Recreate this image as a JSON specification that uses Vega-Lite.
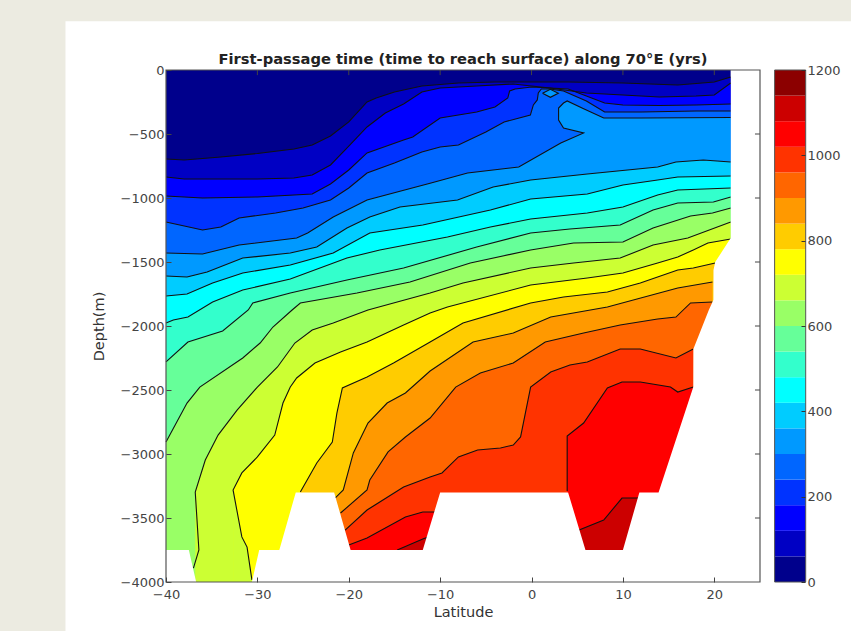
{"$schema":"https://vega.github.io/schema/vega-lite/v6.json","autosize":{"type":"none"},"padding":{"left":166,"top":70,"right":91,"bottom":49},"width":594,"height":512,"background":"#ecebe1","view":{"stroke":null},"title":{"text":"First-passage time (time to reach surface) along 70°E (yrs)","font":"DejaVu Sans","fontSize":14.7,"fontWeight":"bold","color":"#222","offset":3,"anchor":"middle","dy":48},
"datasets":{"c":[
{"p":"0","l":0,"x":-40,"d":0,"n":"f"},{"p":"0","l":0,"x":21.8,"d":0,"n":"f"},
{"p":"60","l":60,"x":-40,"d":-695},{"p":"60","l":60,"x":-38,"d":-703},{"p":"60","l":60,"x":-34,"d":-680},{"p":"60","l":60,"x":-30,"d":-652},{"p":"60","l":60,"x":-26,"d":-617},{"p":"60","l":60,"x":-24,"d":-586},{"p":"60","l":60,"x":-22,"d":-516},{"p":"60","l":60,"x":-20,"d":-406},{"p":"60","l":60,"x":-18,"d":-250},{"p":"60","l":60,"x":-17,"d":-219},{"p":"60","l":60,"x":-15,"d":-172},{"p":"60","l":60,"x":-12,"d":-125},{"p":"60","l":60,"x":-8,"d":-102},{"p":"60","l":60,"x":-4,"d":-94},{"p":"60","l":60,"x":4,"d":-94},{"p":"60","l":60,"x":10,"d":-102},{"p":"60","l":60,"x":16,"d":-117},{"p":"60","l":60,"x":20,"d":-94},{"p":"60","l":60,"x":21.8,"d":-55},
{"p":"120","l":120,"x":-40,"d":-836},{"p":"120","l":120,"x":-38,"d":-852},{"p":"120","l":120,"x":-30,"d":-852},{"p":"120","l":120,"x":-26,"d":-844},{"p":"120","l":120,"x":-24,"d":-820},{"p":"120","l":120,"x":-22,"d":-742},{"p":"120","l":120,"x":-20,"d":-594},{"p":"120","l":120,"x":-18,"d":-445},{"p":"120","l":120,"x":-16,"d":-336},{"p":"120","l":120,"x":-14,"d":-266},{"p":"120","l":120,"x":-12,"d":-172},{"p":"120","l":120,"x":-10,"d":-141},{"p":"120","l":120,"x":-6,"d":-125},{"p":"120","l":120,"x":-2,"d":-109},{"p":"120","l":120,"x":2,"d":-141},{"p":"120","l":120,"x":6,"d":-180},{"p":"120","l":120,"x":10,"d":-195},{"p":"120","l":120,"x":14,"d":-211},{"p":"120","l":120,"x":18,"d":-203},{"p":"120","l":120,"x":20,"d":-195},{"p":"120","l":120,"x":21.8,"d":-102},
{"p":"180","l":180,"x":-40,"d":-984},{"p":"180","l":180,"x":-36,"d":-1000},{"p":"180","l":180,"x":-30,"d":-992},{"p":"180","l":180,"x":-24,"d":-969},{"p":"180","l":180,"x":-22,"d":-891},{"p":"180","l":180,"x":-20,"d":-781},{"p":"180","l":180,"x":-18,"d":-648},{"p":"180","l":180,"x":-14,"d":-547},{"p":"180","l":180,"x":-13,"d":-523},{"p":"180","l":180,"x":-10,"d":-375},{"p":"180","l":180,"x":-8,"d":-352},{"p":"180","l":180,"x":-6,"d":-328},{"p":"180","l":180,"x":-4,"d":-289},{"p":"180","l":180,"x":-2.6,"d":-219},{"p":"180","l":180,"x":-2.4,"d":-164},{"p":"180","l":180,"x":-1.8,"d":-148},{"p":"180","l":180,"x":0,"d":-133},{"p":"180","l":180,"x":2,"d":-141},{"p":"180","l":180,"x":4,"d":-148},{"p":"180","l":180,"x":6,"d":-203},{"p":"180","l":180,"x":8,"d":-258},{"p":"180","l":180,"x":10,"d":-273},{"p":"180","l":180,"x":14,"d":-277},{"p":"180","l":180,"x":18,"d":-273},{"p":"180","l":180,"x":21.8,"d":-266},
{"p":"240","l":240,"x":-40,"d":-1188},{"p":"240","l":240,"x":-36,"d":-1250},{"p":"240","l":240,"x":-34,"d":-1227},{"p":"240","l":240,"x":-32,"d":-1156},{"p":"240","l":240,"x":-28,"d":-1117},{"p":"240","l":240,"x":-25,"d":-1078},{"p":"240","l":240,"x":-22,"d":-1016},{"p":"240","l":240,"x":-20,"d":-922},{"p":"240","l":240,"x":-18,"d":-805},{"p":"240","l":240,"x":-15,"d":-727},{"p":"240","l":240,"x":-12,"d":-641},{"p":"240","l":240,"x":-10,"d":-602},{"p":"240","l":240,"x":-8,"d":-586},{"p":"240","l":240,"x":-5,"d":-484},{"p":"240","l":240,"x":-3,"d":-406},{"p":"240","l":240,"x":-0.13,"d":-352},{"p":"240","l":240,"x":0.2,"d":-273},{"p":"240","l":240,"x":0.63,"d":-234},{"p":"240","l":240,"x":0.74,"d":-180},{"p":"240","l":240,"x":1.07,"d":-148},{"p":"240","l":240,"x":2,"d":-148},{"p":"240","l":240,"x":3.5,"d":-164},{"p":"240","l":240,"x":6,"d":-242},{"p":"240","l":240,"x":8,"d":-328},{"p":"240","l":240,"x":12,"d":-328},{"p":"240","l":240,"x":18,"d":-320},{"p":"240","l":240,"x":21.8,"d":-320},
{"p":"300","l":300,"x":-40,"d":-1430},{"p":"300","l":300,"x":-36,"d":-1438},{"p":"300","l":300,"x":-32,"d":-1367},{"p":"300","l":300,"x":-25.7,"d":-1313},{"p":"300","l":300,"x":-24.5,"d":-1273},{"p":"300","l":300,"x":-21.7,"d":-1148},{"p":"300","l":300,"x":-18,"d":-1016},{"p":"300","l":300,"x":-11,"d":-883},{"p":"300","l":300,"x":-7,"d":-805},{"p":"300","l":300,"x":-1.4,"d":-758},{"p":"300","l":300,"x":3.2,"d":-570},{"p":"300","l":300,"x":5.7,"d":-492},{"p":"300","l":300,"x":3.5,"d":-453,"n":"l"},{"p":"300","l":300,"x":2.96,"d":-391,"n":"l"},{"p":"300","l":300,"x":2.96,"d":-297,"n":"l"},{"p":"300","l":300,"x":3.5,"d":-258,"n":"l"},{"p":"300","l":300,"x":3.9,"d":-242,"n":"l"},{"p":"300","l":300,"x":5.7,"d":-302,"n":"l"},{"p":"300","l":300,"x":5.71,"d":-302,"n":"f"},{"p":"300","l":300,"x":7.9,"d":-375},{"p":"300","l":300,"x":12,"d":-375},{"p":"300","l":300,"x":21.8,"d":-371},
{"p":"d","l":300,"x":1.2,"d":-182,"n":"l"},{"p":"d","l":300,"x":2.06,"d":-151,"n":"l"},{"p":"d","l":300,"x":2.93,"d":-182,"n":"l"},{"p":"d","l":300,"x":2.06,"d":-213,"n":"l"},{"p":"d","l":300,"x":1.2,"d":-182,"n":"l"},
{"p":"360","l":360,"x":-40,"d":-1609},{"p":"360","l":360,"x":-37.7,"d":-1617},{"p":"360","l":360,"x":-35.5,"d":-1578},{"p":"360","l":360,"x":-31.6,"d":-1469},{"p":"360","l":360,"x":-26.4,"d":-1430},{"p":"360","l":360,"x":-23.5,"d":-1383},{"p":"360","l":360,"x":-20.2,"d":-1234},{"p":"360","l":360,"x":-17.7,"d":-1148},{"p":"360","l":360,"x":-14.4,"d":-1070},{"p":"360","l":360,"x":-8.1,"d":-1016},{"p":"360","l":360,"x":-4.2,"d":-914},{"p":"360","l":360,"x":-0.1,"d":-859},{"p":"360","l":360,"x":6.1,"d":-813},{"p":"360","l":360,"x":13.8,"d":-758},{"p":"360","l":360,"x":15.8,"d":-719},{"p":"360","l":360,"x":18.8,"d":-703},{"p":"360","l":360,"x":21.8,"d":-719},
{"p":"420","l":420,"x":-40,"d":-1766},{"p":"420","l":420,"x":-37.7,"d":-1750},{"p":"420","l":420,"x":-34.9,"d":-1664},{"p":"420","l":420,"x":-31.6,"d":-1586},{"p":"420","l":420,"x":-26.4,"d":-1523},{"p":"420","l":420,"x":-21.7,"d":-1430},{"p":"420","l":420,"x":-17.7,"d":-1273},{"p":"420","l":420,"x":-11.9,"d":-1211},{"p":"420","l":420,"x":-4.5,"d":-1094},{"p":"420","l":420,"x":-0.1,"d":-1008},{"p":"420","l":420,"x":6.1,"d":-969},{"p":"420","l":420,"x":10,"d":-898},{"p":"420","l":420,"x":13.8,"d":-859},{"p":"420","l":420,"x":16,"d":-836},{"p":"420","l":420,"x":21.8,"d":-828},
{"p":"480","l":480,"x":-40,"d":-1977},{"p":"480","l":480,"x":-39.2,"d":-1953},{"p":"480","l":480,"x":-37.6,"d":-1930},{"p":"480","l":480,"x":-34.9,"d":-1813},{"p":"480","l":480,"x":-31.6,"d":-1719},{"p":"480","l":480,"x":-26.4,"d":-1633},{"p":"480","l":480,"x":-20.2,"d":-1469},{"p":"480","l":480,"x":-16.6,"d":-1406},{"p":"480","l":480,"x":-9.2,"d":-1305},{"p":"480","l":480,"x":-4.5,"d":-1227},{"p":"480","l":480,"x":-0.1,"d":-1164},{"p":"480","l":480,"x":6.1,"d":-1117},{"p":"480","l":480,"x":10,"d":-1070},{"p":"480","l":480,"x":13.8,"d":-977},{"p":"480","l":480,"x":16,"d":-938},{"p":"480","l":480,"x":21.8,"d":-922},
{"p":"540","l":540,"x":-40,"d":-2281},{"p":"540","l":540,"x":-37.6,"d":-2125},{"p":"540","l":540,"x":-33.8,"d":-2039},{"p":"540","l":540,"x":-31,"d":-1875},{"p":"540","l":540,"x":-30.5,"d":-1820},{"p":"540","l":540,"x":-26.4,"d":-1742},{"p":"540","l":540,"x":-20.2,"d":-1641},{"p":"540","l":540,"x":-14,"d":-1547},{"p":"540","l":540,"x":-6,"d":-1383},{"p":"540","l":540,"x":-0.1,"d":-1273},{"p":"540","l":540,"x":4.2,"d":-1242},{"p":"540","l":540,"x":9.7,"d":-1211},{"p":"540","l":540,"x":13.3,"d":-1094},{"p":"540","l":540,"x":16,"d":-1039},{"p":"540","l":540,"x":19.9,"d":-1031},{"p":"540","l":540,"x":21.8,"d":-992},
{"p":"600","l":600,"x":-40,"d":-2906},{"p":"600","l":600,"x":-37.7,"d":-2602},{"p":"600","l":600,"x":-36.3,"d":-2477},{"p":"600","l":600,"x":-31.6,"d":-2250},{"p":"600","l":600,"x":-29.7,"d":-2133},{"p":"600","l":600,"x":-28.3,"d":-2008},{"p":"600","l":600,"x":-26.2,"d":-1875},{"p":"600","l":600,"x":-25.3,"d":-1820},{"p":"600","l":600,"x":-19.1,"d":-1742},{"p":"600","l":600,"x":-13.3,"d":-1656},{"p":"600","l":600,"x":-6.7,"d":-1508},{"p":"600","l":600,"x":-0.1,"d":-1406},{"p":"600","l":600,"x":4.6,"d":-1352},{"p":"600","l":600,"x":10,"d":-1344},{"p":"600","l":600,"x":13.3,"d":-1234},{"p":"600","l":600,"x":17.4,"d":-1141},{"p":"600","l":600,"x":19.8,"d":-1117},{"p":"600","l":600,"x":21.8,"d":-1078},
{"p":"660","l":660,"x":-37,"d":-3891,"n":"l"},{"p":"660","l":660,"x":-36.4,"d":-3750,"n":"l"},{"p":"660","l":660,"x":-36.8,"d":-3297},{"p":"660","l":660,"x":-35.7,"d":-3047},{"p":"660","l":660,"x":-34.3,"d":-2852},{"p":"660","l":660,"x":-32.2,"d":-2656},{"p":"660","l":660,"x":-30,"d":-2477},{"p":"660","l":660,"x":-27.8,"d":-2320},{"p":"660","l":660,"x":-25.9,"d":-2133},{"p":"660","l":660,"x":-24,"d":-2031},{"p":"660","l":660,"x":-21.7,"d":-1977},{"p":"660","l":660,"x":-17.9,"d":-1875},{"p":"660","l":660,"x":-11.1,"d":-1742},{"p":"660","l":660,"x":-7.5,"d":-1664},{"p":"660","l":660,"x":-0.1,"d":-1547},{"p":"660","l":660,"x":4.6,"d":-1508},{"p":"660","l":660,"x":9.7,"d":-1469},{"p":"660","l":660,"x":13.3,"d":-1367},{"p":"660","l":660,"x":17.1,"d":-1313},{"p":"660","l":660,"x":21.8,"d":-1188},
{"p":"720","l":720,"x":-30.6,"d":-3984,"n":"l"},{"p":"720","l":720,"x":-31.13,"d":-3727,"n":"l"},{"p":"720","l":720,"x":-31.7,"d":-3648,"n":"l"},{"p":"720","l":720,"x":-32.66,"d":-3281},{"p":"720","l":720,"x":-31.7,"d":-3148},{"p":"720","l":720,"x":-30,"d":-3023},{"p":"720","l":720,"x":-28.1,"d":-2852},{"p":"720","l":720,"x":-27.2,"d":-2602},{"p":"720","l":720,"x":-26.4,"d":-2477},{"p":"720","l":720,"x":-25.7,"d":-2406},{"p":"720","l":720,"x":-23.7,"d":-2289},{"p":"720","l":720,"x":-20.9,"d":-2203},{"p":"720","l":720,"x":-18,"d":-2125},{"p":"720","l":720,"x":-14,"d":-1992},{"p":"720","l":720,"x":-11.1,"d":-1898},{"p":"720","l":720,"x":-9.2,"d":-1852},{"p":"720","l":720,"x":-0.1,"d":-1680},{"p":"720","l":720,"x":6.1,"d":-1625},{"p":"720","l":720,"x":10,"d":-1586},{"p":"720","l":720,"x":13.8,"d":-1508},{"p":"720","l":720,"x":16,"d":-1461},{"p":"720","l":720,"x":17.7,"d":-1406},{"p":"720","l":720,"x":19.3,"d":-1352},{"p":"720","l":720,"x":21.8,"d":-1320},
{"p":"780","l":780,"x":-25.3,"d":-3297},{"p":"780","l":780,"x":-23.5,"d":-3070},{"p":"780","l":780,"x":-21.8,"d":-2906},{"p":"780","l":780,"x":-21.3,"d":-2680},{"p":"780","l":780,"x":-20.7,"d":-2484},{"p":"780","l":780,"x":-18,"d":-2398},{"p":"780","l":780,"x":-15.1,"d":-2289},{"p":"780","l":780,"x":-11.1,"d":-2125},{"p":"780","l":780,"x":-7.5,"d":-1977},{"p":"780","l":780,"x":-0.1,"d":-1820},{"p":"780","l":780,"x":3.5,"d":-1773},{"p":"780","l":780,"x":8.3,"d":-1734},{"p":"780","l":780,"x":11.9,"d":-1664},{"p":"780","l":780,"x":16,"d":-1563},{"p":"780","l":780,"x":17.7,"d":-1547},{"p":"780","l":780,"x":20.1,"d":-1508},
{"p":"840","l":840,"x":-21.5,"d":-3344},{"p":"840","l":840,"x":-20.6,"d":-3281},{"p":"840","l":840,"x":-19.5,"d":-2992},{"p":"840","l":840,"x":-17.9,"d":-2758},{"p":"840","l":840,"x":-15.8,"d":-2602},{"p":"840","l":840,"x":-13.8,"d":-2523},{"p":"840","l":840,"x":-11.1,"d":-2352},{"p":"840","l":840,"x":-6.4,"d":-2125},{"p":"840","l":840,"x":-2,"d":-2055},{"p":"840","l":840,"x":2.1,"d":-1930},{"p":"840","l":840,"x":8.3,"d":-1852},{"p":"840","l":840,"x":16,"d":-1703},{"p":"840","l":840,"x":19.8,"d":-1656},
{"p":"900","l":900,"x":-20.9,"d":-3461},{"p":"900","l":900,"x":-18,"d":-3281},{"p":"900","l":900,"x":-17.7,"d":-3203},{"p":"900","l":900,"x":-15.7,"d":-2984},{"p":"900","l":900,"x":-13.8,"d":-2867},{"p":"900","l":900,"x":-11.1,"d":-2719},{"p":"900","l":900,"x":-8.3,"d":-2477},{"p":"900","l":900,"x":-5.6,"d":-2367},{"p":"900","l":900,"x":-2,"d":-2289},{"p":"900","l":900,"x":1.5,"d":-2125},{"p":"900","l":900,"x":5.7,"d":-2055},{"p":"900","l":900,"x":9.7,"d":-1992},{"p":"900","l":900,"x":13.8,"d":-1945},{"p":"900","l":900,"x":15.8,"d":-1930},{"p":"900","l":900,"x":17.4,"d":-1820},{"p":"900","l":900,"x":19.8,"d":-1813},
{"p":"960","l":960,"x":-20.4,"d":-3594},{"p":"960","l":960,"x":-18,"d":-3438},{"p":"960","l":960,"x":-14,"d":-3258},{"p":"960","l":960,"x":-11.1,"d":-3180},{"p":"960","l":960,"x":-9.8,"d":-3148},{"p":"960","l":960,"x":-8,"d":-3023},{"p":"960","l":960,"x":-5.9,"d":-2969},{"p":"960","l":960,"x":-3.4,"d":-2953},{"p":"960","l":960,"x":-2,"d":-2930},{"p":"960","l":960,"x":-1.2,"d":-2867},{"p":"960","l":960,"x":-0.1,"d":-2477},{"p":"960","l":960,"x":2.1,"d":-2359},{"p":"960","l":960,"x":4.2,"d":-2305},{"p":"960","l":960,"x":6.1,"d":-2281},{"p":"960","l":960,"x":9.7,"d":-2180},{"p":"960","l":960,"x":11.9,"d":-2180},{"p":"960","l":960,"x":15.8,"d":-2250},{"p":"960","l":960,"x":17.7,"d":-2180},
{"p":"1020a","l":1020,"x":-20,"d":-3711},{"p":"1020a","l":1020,"x":-18,"d":-3656},{"p":"1020a","l":1020,"x":-13.8,"d":-3492},{"p":"1020a","l":1020,"x":-11.9,"d":-3453},{"p":"1020a","l":1020,"x":-10.5,"d":-3453},
{"p":"1020b","l":1020,"x":3.9,"d":-3289,"n":"l"},{"p":"1020b","l":1020,"x":3.9,"d":-2859},{"p":"1020b","l":1020,"x":5.7,"d":-2758},{"p":"1020b","l":1020,"x":8.3,"d":-2484},{"p":"1020b","l":1020,"x":9.9,"d":-2438},{"p":"1020b","l":1020,"x":11.9,"d":-2438},{"p":"1020b","l":1020,"x":15.2,"d":-2477},{"p":"1020b","l":1020,"x":16,"d":-2516},{"p":"1020b","l":1020,"x":17.7,"d":-2477},
{"p":"1080a","l":1080,"x":-14.7,"d":-3750},{"p":"1080a","l":1080,"x":-11.9,"d":-3664},{"p":"1080a","l":1080,"x":-11.3,"d":-3648},
{"p":"1080b","l":1080,"x":5.2,"d":-3594},{"p":"1080b","l":1080,"x":7.9,"d":-3516},{"p":"1080b","l":1080,"x":9.9,"d":-3344},{"p":"1080b","l":1080,"x":11.7,"d":-3344}
],
"o":[
{"p":"t","l":300,"x":2.96,"d":-297,"e":-391},{"p":"t","l":300,"x":3.5,"d":-258,"e":-453},{"p":"t","l":300,"x":3.9,"d":-242,"e":-461},{"p":"t","l":300,"x":5.7,"d":-302,"e":-492},{"p":"t","l":300,"x":6.5,"d":-336,"e":-500},
{"p":"k","l":300,"x":1.2,"d":-182,"e":-182},{"p":"k","l":300,"x":2.06,"d":-151,"e":-213},{"p":"k","l":300,"x":2.93,"d":-182,"e":-182},
{"p":"u","l":660,"x":-32.66,"d":-3281,"e":-4000},{"p":"u","l":660,"x":-31.7,"d":-3648,"e":-4000},{"p":"u","l":660,"x":-31.13,"d":-3727,"e":-4000},{"p":"u","l":660,"x":-30.6,"d":-3984,"e":-4000}
],
"m":[{"x":-40,"d":-3750},{"x":-37.5,"d":-3750},{"x":-36.7,"d":-4000},{"x":-30.6,"d":-4000},{"x":-29.8,"d":-3750},{"x":-27.6,"d":-3750},{"x":-25.8,"d":-3300},{"x":-21.6,"d":-3300},{"x":-19.8,"d":-3750},{"x":-11.9,"d":-3750},{"x":-10,"d":-3300},{"x":4,"d":-3300},{"x":5.9,"d":-3750},{"x":10,"d":-3750},{"x":11.8,"d":-3300},{"x":13.9,"d":-3300},{"x":17.7,"d":-2477},{"x":17.71,"d":-2180},{"x":19.4,"d":-1875},{"x":19.9,"d":-1797},{"x":19.91,"d":-1563},{"x":20.1,"d":-1500},{"x":21.8,"d":-1313},{"x":21.81,"d":0},{"x":25,"d":0}],
"b":[{"l":0,"t":60},{"l":60,"t":120},{"l":120,"t":180},{"l":180,"t":240},{"l":240,"t":300},{"l":300,"t":360},{"l":360,"t":420},{"l":420,"t":480},{"l":480,"t":540},{"l":540,"t":600},{"l":600,"t":660},{"l":660,"t":720},{"l":720,"t":780},{"l":780,"t":840},{"l":840,"t":900},{"l":900,"t":960},{"l":960,"t":1020},{"l":1020,"t":1080},{"l":1080,"t":1140},{"l":1140,"t":1200}],
"tx":[{"x":-30},{"x":-20},{"x":-10},{"x":0},{"x":10},{"x":20}],
"ty":[{"d":-500},{"d":-1000},{"d":-1500},{"d":-2000},{"d":-2500},{"d":-3000},{"d":-3500}]
},
"layer":[
{"data":{"values":[{"a":1}]},"mark":{"type":"rect","fill":"white"},"encoding":{"x":{"datum":-51,"type":"quantitative","scale":{"domain":[-40,25]},"axis":null},"x2":{"datum":36},"y":{"datum":380,"type":"quantitative","scale":{"domain":[-4000,0]},"axis":null},"y2":{"datum":-4400}}},
{"data":{"name":"c"},"transform":[{"filter":"datum.n!='l'"}],"mark":{"type":"area","interpolate":"linear"},"encoding":{"x":{"field":"x","type":"quantitative","scale":{"domain":[-40,25]},"title":"Latitude","axis":{"values":[-40,-30,-20,-10,0,10,20],"format":"d","grid":false,"domain":false,"tickSize":-5,"tickColor":"#444","labelColor":"#444","labelFont":"DejaVu Sans","labelFontSize":13,"labelPadding":11,"titleFont":"DejaVu Sans","titleFontSize":14.5,"titleFontWeight":"normal","titleColor":"#333","titlePadding":4,"zindex":1,"labelFlush":false}},"y":{"field":"d","type":"quantitative","scale":{"domain":[-4000,0]},"title":"Depth(m)","axis":{"values":[-4000,-3500,-3000,-2500,-2000,-1500,-1000,-500,0],"format":"d","grid":false,"domain":false,"tickSize":-5,"tickColor":"#444","labelColor":"#444","labelFont":"DejaVu Sans","labelFontSize":13,"labelPadding":7,"titleFont":"DejaVu Sans","titleFontSize":14.5,"titleFontWeight":"normal","titleColor":"#333","titlePadding":14,"zindex":1}},"y2":{"datum":-4000},"color":{"field":"l","type":"ordinal","legend":null,"scale":{"domain":[0,60,120,180,240,300,360,420,480,540,600,660,720,780,840,900,960,1020,1080,1140],"range":["#00008c","#0000c4","#0000ff","#0033ff","#0066ff","#0099ff","#00ccff","#00ffff","#33ffcc","#66ff99","#99ff66","#ccff33","#ffff00","#ffcc00","#ff9900","#ff6600","#ff3300","#ff0000","#cc0000","#8c0000"]}},"detail":{"field":"p"}}},
{"data":{"name":"o"},"mark":{"type":"area"},"encoding":{"x":{"field":"x","type":"quantitative","scale":{"domain":[-40,25]},"axis":null},"y":{"field":"d","type":"quantitative","scale":{"domain":[-4000,0]},"axis":null},"y2":{"field":"e"},"color":{"field":"l","type":"ordinal","legend":null},"detail":{"field":"p"}}},
{"data":{"name":"c"},"transform":[{"window":[{"op":"row_number","as":"s"}]},{"filter":"datum.n!='f'"}],"mark":{"type":"line","stroke":"#111","strokeWidth":1.1,"interpolate":"linear"},"encoding":{"x":{"field":"x","type":"quantitative","scale":{"domain":[-40,25]},"axis":null},"y":{"field":"d","type":"quantitative","scale":{"domain":[-4000,0]},"axis":null},"detail":{"field":"p"},"order":{"field":"s","type":"quantitative"}}},
{"data":{"name":"m"},"mark":{"type":"area","fill":"white"},"encoding":{"x":{"field":"x","type":"quantitative","scale":{"domain":[-40,25]},"axis":null},"y":{"field":"d","type":"quantitative","scale":{"domain":[-4000,0]},"axis":null},"y2":{"datum":-4000}}},
{"data":{"name":"tx"},"mark":{"type":"rule","stroke":"#444"},"encoding":{"x":{"field":"x","type":"quantitative","scale":{"domain":[-40,25]},"axis":null},"y":{"datum":0,"type":"quantitative","scale":{"domain":[-4000,0]},"axis":null},"y2":{"datum":-40}}},
{"data":{"name":"ty"},"mark":{"type":"rule","stroke":"#444"},"encoding":{"y":{"field":"d","type":"quantitative","scale":{"domain":[-4000,0]},"axis":null},"x":{"datum":25,"type":"quantitative","scale":{"domain":[-40,25]},"axis":null},"x2":{"datum":24.45}}},
{"data":{"values":[{"a":1}]},"mark":{"type":"rect","fill":null,"stroke":"#555","strokeWidth":1.2},"encoding":{"x":{"datum":-40,"type":"quantitative","scale":{"domain":[-40,25]},"axis":null},"x2":{"datum":25},"y":{"datum":0,"type":"quantitative","scale":{"domain":[-4000,0]},"axis":null},"y2":{"datum":-4000}}},
{"data":{"name":"b"},"mark":{"type":"rect"},"encoding":{"x":{"datum":26.6,"type":"quantitative","scale":{"domain":[-40,25]},"axis":null},"x2":{"datum":30},"y":{"field":"l","type":"quantitative","scale":{"domain":[0,1200]},"axis":{"orient":"right","offset":45,"values":[0,200,400,600,800,1000,1200],"format":"d","grid":false,"domain":false,"tickSize":-4,"tickColor":"#333","labelColor":"#444","labelFont":"DejaVu Sans","labelFontSize":13,"labelPadding":6,"title":null,"zindex":1}},"y2":{"field":"t"},"color":{"field":"l","type":"ordinal","legend":null}}},
{"data":{"values":[{"a":1}]},"mark":{"type":"rect","fill":null,"stroke":"#555","strokeWidth":1},"encoding":{"x":{"datum":26.6,"type":"quantitative","scale":{"domain":[-40,25]},"axis":null},"x2":{"datum":30},"y":{"datum":0,"type":"quantitative","scale":{"domain":[0,1200]},"axis":null},"y2":{"datum":1200}}}
],
"resolve":{"scale":{"y":"independent"},"axis":{"y":"independent","x":"independent"}}
}
